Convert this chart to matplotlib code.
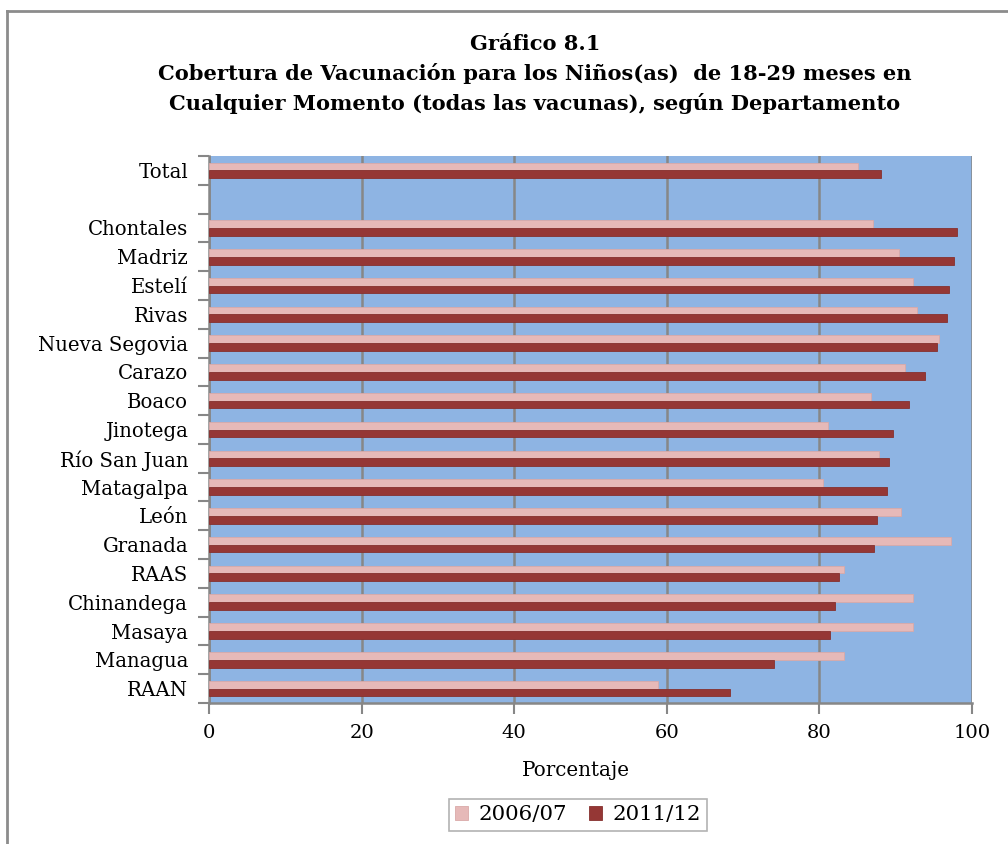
import matplotlib
matplotlib.use('Agg')
import matplotlib.pyplot as plt
import numpy as np
from matplotlib.lines import Line2D

# categories from top to bottom ('' is the empty slot under Total)
categories = ['Total', '', 'Chontales', 'Madriz', 'Estelí', 'Rivas', 'Nueva Segovia',
              'Carazo', 'Boaco', 'Jinotega', 'Río San Juan', 'Matagalpa', 'León',
              'Granada', 'RAAS', 'Chinandega', 'Masaya', 'Managua', 'RAAN']
serie_2006 = [85.0, np.nan, 87.0, 90.4, 92.3, 92.8, 95.7, 91.2, 86.8, 81.1, 87.8,
              80.5, 90.7, 97.2, 83.2, 92.3, 92.3, 83.2, 58.9]
serie_2011 = [88.1, np.nan, 98.0, 97.7, 97.0, 96.7, 95.4, 93.8, 91.8, 89.7, 89.1,
              88.9, 87.6, 87.1, 82.6, 82.1, 81.4, 74.0, 68.3]
series_labels = ['2006/07', '2011/12']
xticks = [0, 20, 40, 60, 80, 100]

FONT = 'DejaVu Serif'
W, H = 1008, 844

fig = plt.figure(figsize=(W / 100, H / 100), dpi=100)
fig.patch.set_facecolor('white')

# chart border (top and left visible)
fig.add_artist(Line2D([7 / W, 1], [1 - 11 / H, 1 - 11 / H], color='#8c8c8c', lw=2))
fig.add_artist(Line2D([7 / W, 7 / W], [0, 1 - 11 / H], color='#8c8c8c', lw=2))

left, right, top, bottom = 209, 972, 156, 703
ax = fig.add_axes([left / W, 1 - bottom / H, (right - left) / W, (bottom - top) / H])
ax.set_facecolor('#8EB4E3')

n = len(categories)
y = np.arange(n)
bh = 0.27
ax.barh(y - bh / 2, serie_2006, height=bh, color='#E6B9B8', edgecolor='#d9a9a8',
        linewidth=0.6, label=series_labels[0], zorder=3)
ax.barh(y + bh / 2, serie_2011, height=bh, color='#953735', edgecolor='#86302e',
        linewidth=0.6, label=series_labels[1], zorder=3)

ax.set_ylim(n - 0.5, -0.5)
ax.set_xlim(0, 100)

ax.set_yticks(y)
ax.set_yticklabels(categories, fontfamily=FONT, fontsize=14.2)
ax.set_yticks(np.arange(n + 1) - 0.5, minor=True)
ax.tick_params(axis='y', which='major', length=0, pad=15)
ax.tick_params(axis='y', which='minor', length=8, width=1.5, color='#878787')

ax.set_xticks(xticks)
ax.set_xticklabels([str(t) for t in xticks], fontfamily=FONT, fontsize=14)
ax.tick_params(axis='x', length=8, width=1.5, color='#878787', pad=7)
ax.grid(axis='x', color='#878787', lw=1.8, zorder=1)
ax.set_axisbelow(True)

for s in ['top', 'right']:
    ax.spines[s].set_visible(False)
for s in ['left', 'bottom']:
    ax.spines[s].set_color('#878787')
    ax.spines[s].set_linewidth(1.8)

fig.text(576 / W, 1 - 771 / H, 'Porcentaje', ha='center', va='center',
         fontfamily=FONT, fontsize=14.3)

fig.text(535 / W, 1 - 44 / H, 'Gráfico 8.1', ha='center', va='center',
         fontfamily=FONT, fontweight='bold', fontsize=15.1)
fig.text(535 / W, 1 - 74 / H, 'Cobertura de Vacunación para los Niños(as)  de 18-29 meses en',
         ha='center', va='center', fontfamily=FONT, fontweight='bold', fontsize=15.1)
fig.text(535 / W, 1 - 104 / H, 'Cualquier Momento (todas las vacunas), según Departamento',
         ha='center', va='center', fontfamily=FONT, fontweight='bold', fontsize=15.1)

leg = fig.legend(loc='center', bbox_to_anchor=(578 / W, 1 - 815 / H), ncol=2,
                 prop={'family': FONT, 'size': 15.4}, frameon=True, fancybox=False,
                 handlelength=0.6, handleheight=0.6, handletextpad=0.5,
                 columnspacing=1.0, borderpad=0.3)
leg.get_frame().set_edgecolor('#a0a0a0')
leg.get_frame().set_linewidth(1.2)

fig.savefig('out.png', dpi=100)
